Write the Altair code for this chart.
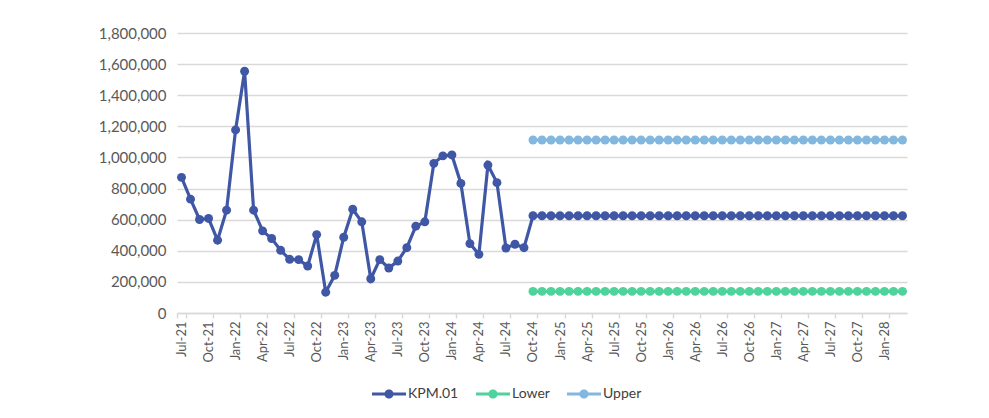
import altair as alt
import pandas as pd

mon = ["Jan", "Feb", "Mar", "Apr", "May", "Jun", "Jul", "Aug", "Sep", "Oct", "Nov", "Dec"]
months = []
yy, mm = 2021, 6
for i in range(81):
    months.append(f"{mon[mm]}-{str(yy)[2:]}")
    mm += 1
    if mm == 12:
        mm = 0
        yy += 1

# KPM.01 actuals Jul-21 .. Sep-24
kpm_actual = [872000, 732000, 601000, 608000, 468000, 661000,
              1177000, 1554000, 661000, 528000, 479000, 403000,
              345000, 343000, 302000, 504000, 134000, 242000,
              487000, 667000, 586000, 220000, 343000, 289000,
              334000, 420000, 558000, 586000, 962000, 1010000,
              1016000, 833000, 446000, 377000, 951000, 838000,
              418000, 442000, 420000]
# Oct-24 .. Mar-28 (42 months)
kpm_mean = [625000] * 42
lower = [139000] * 42
upper = [1112000] * 42

series_names = ["KPM.01", "Lower", "Upper"]
series_colors = ["#3F57A5", "#4FD29B", "#82B8DF"]

rows = []
kpm_all = kpm_actual + kpm_mean
for i, v in enumerate(kpm_all):
    rows.append({"series": "KPM.01", "month": months[i], "value": v})
for j, v in enumerate(lower):
    rows.append({"series": "Lower", "month": months[39 + j], "value": v})
for j, v in enumerate(upper):
    rows.append({"series": "Upper", "month": months[39 + j], "value": v})
df = pd.DataFrame(rows)

FONT = "Lato"
GRID = "#D9D9D9"

x_enc = alt.X("month:O", sort=months,
              scale=alt.Scale(type="band", paddingInner=0, paddingOuter=0),
              axis=alt.Axis(values=months[::3], labelAngle=-90, tickBand="extent",
                            title=None, grid=False, domainColor=GRID, domainWidth=1.5,
                            tickColor=GRID, tickWidth=1.5, tickSize=5,
                            labelFont=FONT, labelFontSize=13, labelColor="#595959",
                            labelPadding=3))
y_enc = alt.Y("value:Q",
              scale=alt.Scale(domain=[0, 1800000], nice=False),
              axis=alt.Axis(values=list(range(0, 1800001, 200000)),
                            labelExpr="format(datum.value, ',')",
                            title=None, domain=False, ticks=False,
                            gridColor=GRID, gridWidth=1.5,
                            labelFont=FONT, labelFontSize=15, labelColor="#595959",
                            labelPadding=11))

color_scale = alt.Scale(domain=series_names, range=series_colors)

legend_symbol = ("M-1,-0.09H-0.2V0.09H-1Z M0.2,-0.09H1V0.09H0.2Z "
                 "M-0.27,0A0.27,0.27,0,1,1,0.27,0A0.27,0.27,0,1,1,-0.27,0Z")

legend = alt.Legend(title=None, orient="none", direction="horizontal",
                    legendX=195, legendY=344, padding=0,
                    symbolType=legend_symbol, symbolSize=1156,
                    symbolStrokeWidth=0, symbolOpacity=1,
                    labelOffset=2, columnPadding=17,
                    labelFont=FONT, labelFontSize=14,
                    labelColor="#404040")

color_enc = alt.Color("series:N", scale=color_scale, legend=legend)

lines = alt.Chart(df).mark_line(strokeWidth=3.2).encode(
    x=x_enc, y=y_enc, color=color_enc, detail="series:N",
)
points = alt.Chart(df).mark_point(filled=True, size=80, opacity=1).encode(
    x=x_enc, y=y_enc, color=color_enc,
)

chart = (lines + points).properties(
    width=730, height=280,
    padding={"left": 169, "top": 25, "right": 60, "bottom": 100},
    autosize=alt.AutoSizeParams(type="none"),
    background="white",
).configure_view(stroke=None)

chart.save("out.html", embed_options={"renderer": "svg", "actions": False})
